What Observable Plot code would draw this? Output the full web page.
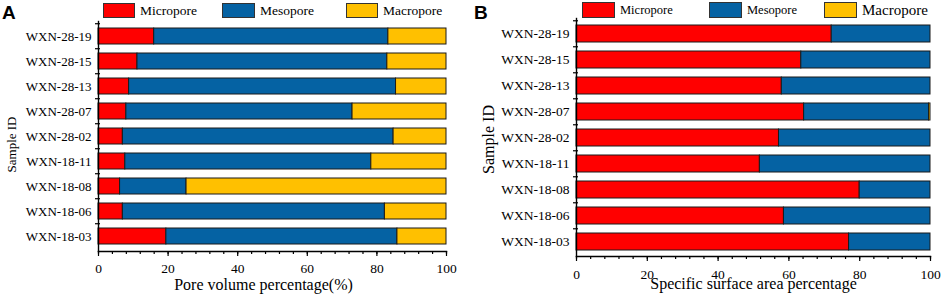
<!DOCTYPE html>
<html><head><meta charset="utf-8">
<script src="https://cdn.jsdelivr.net/npm/d3@7"></script>
<script src="https://cdn.jsdelivr.net/npm/@observablehq/plot@0.6"></script>
<style>
body{margin:0;background:#fff;font-family:"Liberation Serif","Times New Roman",serif;}
#wrap{display:flex;width:941px;height:294px;overflow:hidden;background:#fff}
.panel{position:relative;height:294px}
.panel svg{position:absolute;left:0;top:0}
.panel svg text{font-family:"Liberation Serif","Times New Roman",serif}
.letter{position:absolute;font-family:"Liberation Sans",Arial,sans-serif;font-weight:bold;font-size:19px;line-height:1;z-index:2}
.leg{position:absolute;display:flex;align-items:center;z-index:2;white-space:nowrap;line-height:1}
.sw{border:1px solid #333;box-sizing:border-box;margin-right:5px}
</style></head><body><div id="wrap"></div><script>
const ids = ["WXN-28-19","WXN-28-15","WXN-28-13","WXN-28-07","WXN-28-02","WXN-18-11","WXN-18-08","WXN-18-06","WXN-18-03"];
const types = ["Micropore","Mesopore","Macropore"];
const colors = ["#ff0000","#0562a3","#ffc000"];

// Panel A: pore volume percentage
const volMicro = [16.0, 11.2, 8.8, 8.0, 7.0, 7.7, 6.2, 7.0, 19.5];
const volMeso  = [67.3, 71.8, 76.7, 65.0, 77.8, 70.7, 19.1, 75.3, 66.4];
const volMacro = [16.7, 17.0, 14.5, 27.0, 15.2, 21.6, 74.7, 17.7, 14.1];

// Panel B: specific surface area percentage
const ssaMicro = [72.1, 63.5, 58.0, 64.3, 57.2, 51.8, 80.0, 58.6, 77.0];
const ssaMeso  = [27.9, 36.5, 42.0, 35.3, 42.8, 48.2, 20.0, 41.4, 23.0];
const ssaMacro = [0, 0, 0, 0.4, 0, 0, 0, 0, 0];

const majorTicks = [0, 20, 40, 60, 80, 100];
const minorTicks = [0,4,8,12,16,20,24,28,32,36,40,44,48,52,56,60,64,68,72,76,80,84,88,92,96,100];

const FONT = '"Liberation Serif","Times New Roman",serif';

function longData(a, b, c) {
  const out = [];
  ids.forEach((id, i) => {
    out.push({id, type: types[0], value: a[i]});
    out.push({id, type: types[1], value: b[i]});
    out.push({id, type: types[2], value: c[i]});
  });
  return out;
}

function makePanel(cfg) {
  const div = document.createElement("div");
  div.className = "panel";
  div.style.width = cfg.width + "px";
  const fh = 294 - cfg.mt - cfg.mb;
  const step = fh / ids.length;
  const plot = Plot.plot({
    width: cfg.width, height: 294,
    marginLeft: cfg.ml, marginRight: cfg.mr, marginTop: cfg.mt, marginBottom: cfg.mb,
    style: {fontFamily: FONT, fontSize: "13px", color: "#000", background: "transparent", overflow: "visible"},
    x: {domain: [0, 100]},
    y: {domain: ids, paddingInner: cfg.pad, paddingOuter: cfg.pad / 2, label: null},
    color: {domain: types, range: colors},
    marks: [
      Plot.barX(cfg.data, {y: "id", x: "value", fill: "type", stroke: "#1a1a1a", strokeWidth: 1}),
      Plot.axisY({tickSize: 0, tickPadding: 7, fontSize: cfg.yfs, fontFamily: FONT, label: null}),
      Plot.axisY({ticks: ids, tickSize: 5, dx: 2, dy: -step / 2, tickFormat: () => "", label: null, strokeWidth: 1.2}),
      Plot.axisX({ticks: minorTicks, tickSize: 3, tickFormat: () => "", label: null, strokeWidth: 1.2}),
      Plot.axisX({ticks: majorTicks, tickSize: 5, tickPadding: cfg.xtp, fontSize: 13.5, fontFamily: FONT, label: null, strokeWidth: 1.2}),
      Plot.frame({anchor: "left", strokeWidth: 1.4}),
      Plot.frame({anchor: "bottom", strokeWidth: 1.4}),
      Plot.text([cfg.xtitle], {text: d => d, frameAnchor: "bottom", dy: cfg.xtdy, dx: cfg.xtdx, lineAnchor: "middle", fontSize: 16, fontFamily: FONT}),
      Plot.text(["Sample ID"], {text: d => d, frameAnchor: "left", rotate: -90, dx: cfg.ytdx, dy: cfg.ytdy, lineAnchor: "middle", textAnchor: "middle", fontSize: cfg.ytfs, fontFamily: FONT})
    ]
  });
  div.appendChild(plot);
  const L = document.createElement("div");
  L.className = "letter";
  L.textContent = cfg.letter;
  L.style.left = cfg.letterX + "px";
  L.style.top = "3px";
  div.appendChild(L);
  cfg.legend.forEach((p, i) => {
    const item = document.createElement("div");
    item.className = "leg";
    item.style.left = p.x + "px";
    item.style.top = p.y + "px";
    item.style.height = p.h + "px";
    const sw = document.createElement("div");
    sw.className = "sw";
    sw.style.width = p.w + "px";
    sw.style.height = p.h + "px";
    sw.style.background = colors[i];
    item.appendChild(sw);
    const t = document.createElement("span");
    t.textContent = types[i];
    t.style.fontSize = p.fs + "px";
    item.appendChild(t);
    div.appendChild(item);
  });
  return div;
}

const wrap = document.getElementById("wrap");
wrap.appendChild(makePanel({
  width: 470, ml: 98, mr: 24, mt: 21, mb: 43, pad: 0.35, yfs: 13, xtp: 7,
  data: longData(volMicro, volMeso, volMacro),
  xtitle: "Pore volume percentage(%)", xtdy: 33, xtdx: -9,
  ytdx: -87, ytdy: 8, ytfs: 13,
  letter: "A", letterX: 2,
  legend: [
    {x: 103, y: 3, w: 32, h: 15, fs: 13.5},
    {x: 222, y: 3, w: 33, h: 15, fs: 13.5},
    {x: 346, y: 3, w: 32, h: 15, fs: 13.5}
  ]
}));
wrap.appendChild(makePanel({
  width: 471, ml: 106, mr: 11, mt: 18, mb: 38, pad: 0.36, yfs: 13.5, xtp: 8,
  data: longData(ssaMicro, ssaMeso, ssaMacro),
  xtitle: "Specific surface area percentage", xtdy: 27.5, xtdx: 0,
  ytdx: -88, ytdy: 2, ytfs: 16,
  letter: "B", letterX: 4,
  legend: [
    {x: 112, y: 2, w: 33, h: 16, fs: 12.5},
    {x: 239, y: 2, w: 33, h: 16, fs: 12.5},
    {x: 354, y: 2, w: 33, h: 16, fs: 15}
  ]
}));
</script></body></html>
